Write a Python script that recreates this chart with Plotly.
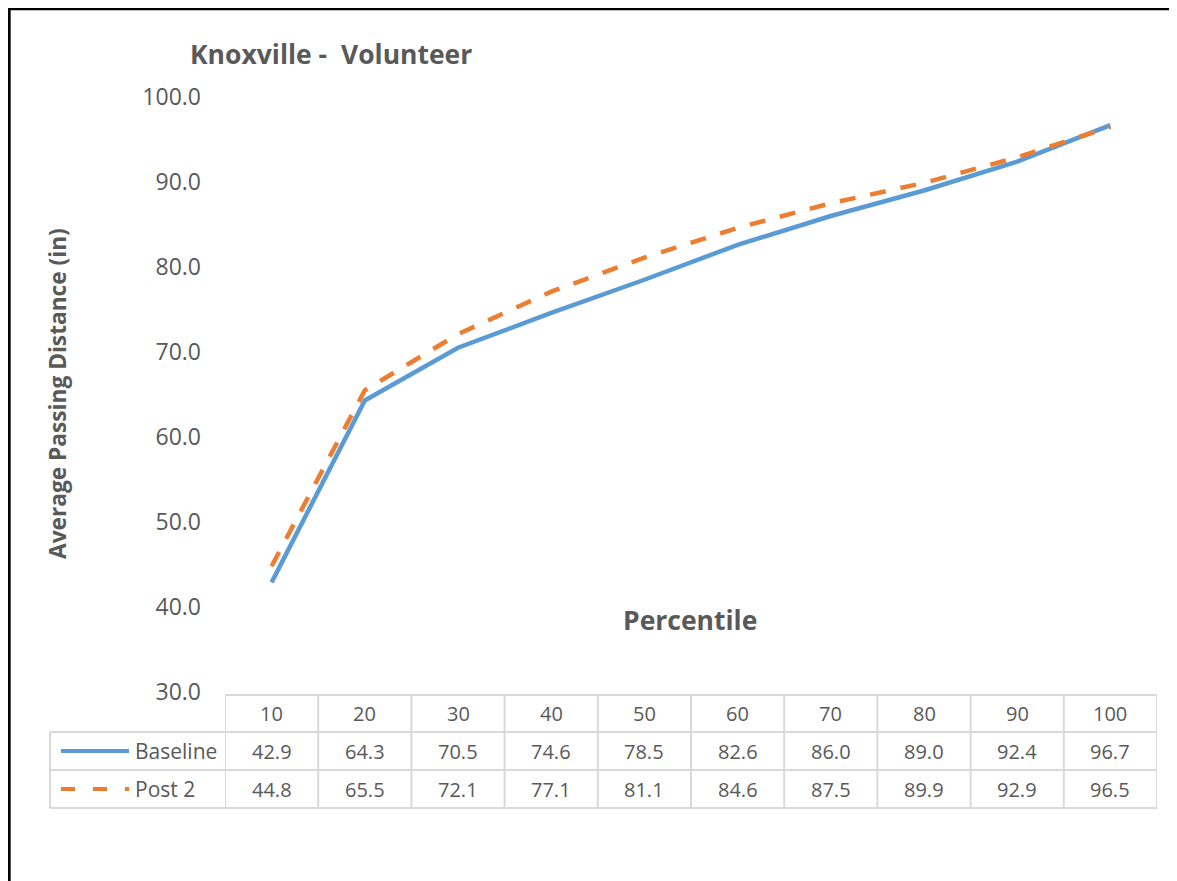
import plotly.graph_objects as go

percentiles = [10, 20, 30, 40, 50, 60, 70, 80, 90, 100]
baseline = [42.9, 64.3, 70.5, 74.6, 78.5, 82.6, 86.0, 89.0, 92.4, 96.7]
post2 = [44.8, 65.5, 72.1, 77.1, 81.1, 84.6, 87.5, 89.9, 92.9, 96.5]
series_names = ["Baseline", "Post 2"]
y_ticks = [30, 40, 50, 60, 70, 80, 90, 100]

OFF = 8  # page body margin
W, H = 1177 - OFF, 881 - OFF
BLUE = "#5B9BD5"
ORANGE = "#ED7D31"
TXT = "#595959"
GRID = "#D9D9D9"
FONT = "Open Sans"

def py(p):
    return 1 - (p - OFF) / H

def pxx(p):
    return (p - OFF) / W

xpos = list(range(1, len(percentiles) + 1))

fig = go.Figure()
fig.add_trace(go.Scatter(x=xpos, y=baseline, mode="lines", name=series_names[0],
                         line=dict(color=BLUE, width=4.5), showlegend=False))
fig.add_trace(go.Scatter(x=xpos, y=post2, mode="lines", name=series_names[1],
                         line=dict(color=ORANGE, width=4.5, dash="16px,15px"), showlegend=False))

shapes = []
# outer border (left and top)
shapes.append(dict(type="line", xref="paper", yref="paper", x0=0.001, x1=0.001, y0=0, y1=1,
                   line=dict(color="black", width=3)))
shapes.append(dict(type="line", xref="paper", yref="paper", x0=0, x1=1, y0=0.999, y1=0.999,
                   line=dict(color="black", width=3)))

# data table grid
n = len(percentiles)
top, r1, r2, bot = 695, 732, 770, 808
shapes.append(dict(type="line", xref="x", yref="paper", x0=0.5, x1=n + 0.5, y0=py(top), y1=py(top),
                   line=dict(color=GRID, width=2)))
for yy in (r1, r2, bot):
    shapes.append(dict(type="line", xref="paper", yref="paper", x0=pxx(50), x1=pxx(1157), y0=py(yy), y1=py(yy),
                       line=dict(color=GRID, width=2)))
for i in range(n + 1):
    shapes.append(dict(type="line", xref="x", yref="paper", x0=0.5 + i, x1=0.5 + i, y0=py(top), y1=py(bot),
                       line=dict(color=GRID, width=2)))
shapes.append(dict(type="line", xref="paper", yref="paper", x0=pxx(50), x1=pxx(50), y0=py(r1), y1=py(bot),
                   line=dict(color=GRID, width=2)))
# legend keys
shapes.append(dict(type="line", xref="paper", yref="paper", x0=pxx(61), x1=pxx(129), y0=py(751), y1=py(751),
                   line=dict(color=BLUE, width=4)))
shapes.append(dict(type="line", xref="paper", yref="paper", x0=pxx(61), x1=pxx(129), y0=py(789), y1=py(789),
                   line=dict(color=ORANGE, width=4, dash="14px,18px")))

annotations = []
for i, p in enumerate(percentiles):
    annotations.append(dict(x=xpos[i], y=py(713), xref="x", yref="paper", text=str(p), showarrow=False,
                            font=dict(family=FONT, size=20, color=TXT), xanchor="center", yanchor="middle"))
    annotations.append(dict(x=xpos[i], y=py(751), xref="x", yref="paper", text=f"{baseline[i]:.1f}", showarrow=False,
                            font=dict(family=FONT, size=20, color=TXT), xanchor="center", yanchor="middle"))
    annotations.append(dict(x=xpos[i], y=py(789), xref="x", yref="paper", text=f"{post2[i]:.1f}", showarrow=False,
                            font=dict(family=FONT, size=20, color=TXT), xanchor="center", yanchor="middle"))
annotations.append(dict(x=pxx(133), y=py(751), xref="paper", yref="paper", text=series_names[0], showarrow=False,
                        font=dict(family=FONT, size=21, color=TXT), xanchor="left", yanchor="middle"))
annotations.append(dict(x=pxx(133), y=py(789), xref="paper", yref="paper", text=series_names[1], showarrow=False,
                        font=dict(family=FONT, size=21, color=TXT), xanchor="left", yanchor="middle"))
# titles
annotations.append(dict(x=pxx(188), y=py(54), xref="paper", yref="paper", text="<b>Knoxville -  Volunteer</b>",
                        showarrow=False, font=dict(family=FONT, size=26.5, color=TXT), xanchor="left", yanchor="middle"))
annotations.append(dict(x=pxx(690), y=py(620), xref="paper", yref="paper", text="<b>Percentile</b>",
                        showarrow=False, font=dict(family=FONT, size=26.5, color=TXT), xanchor="center", yanchor="middle"))
annotations.append(dict(x=pxx(57), y=py(394), xref="paper", yref="paper", text="<b>Average Passing Distance (in)</b>",
                        showarrow=False, textangle=-90, font=dict(family=FONT, size=22.7, color=TXT),
                        xanchor="center", yanchor="middle"))

fig.update_layout(
    width=W, height=H,
    margin=dict(l=0, r=0, t=0, b=0, autoexpand=False),
    paper_bgcolor="white", plot_bgcolor="white",
    shapes=shapes, annotations=annotations,
    xaxis=dict(domain=[pxx(225), pxx(1157)], range=[0.5, n + 0.5], showticklabels=False, automargin=False,
               showgrid=False, zeroline=False, showline=False, ticks=""),
    yaxis=dict(domain=[py(692), py(97)], range=[30, 100], tickvals=y_ticks, tickformat=".1f", automargin=False,
               showgrid=False, zeroline=False, showline=False, ticks="",
               tickfont=dict(family=FONT, size=23, color=TXT), ticklabelstandoff=23),
)

fig.write_html("out.html")
